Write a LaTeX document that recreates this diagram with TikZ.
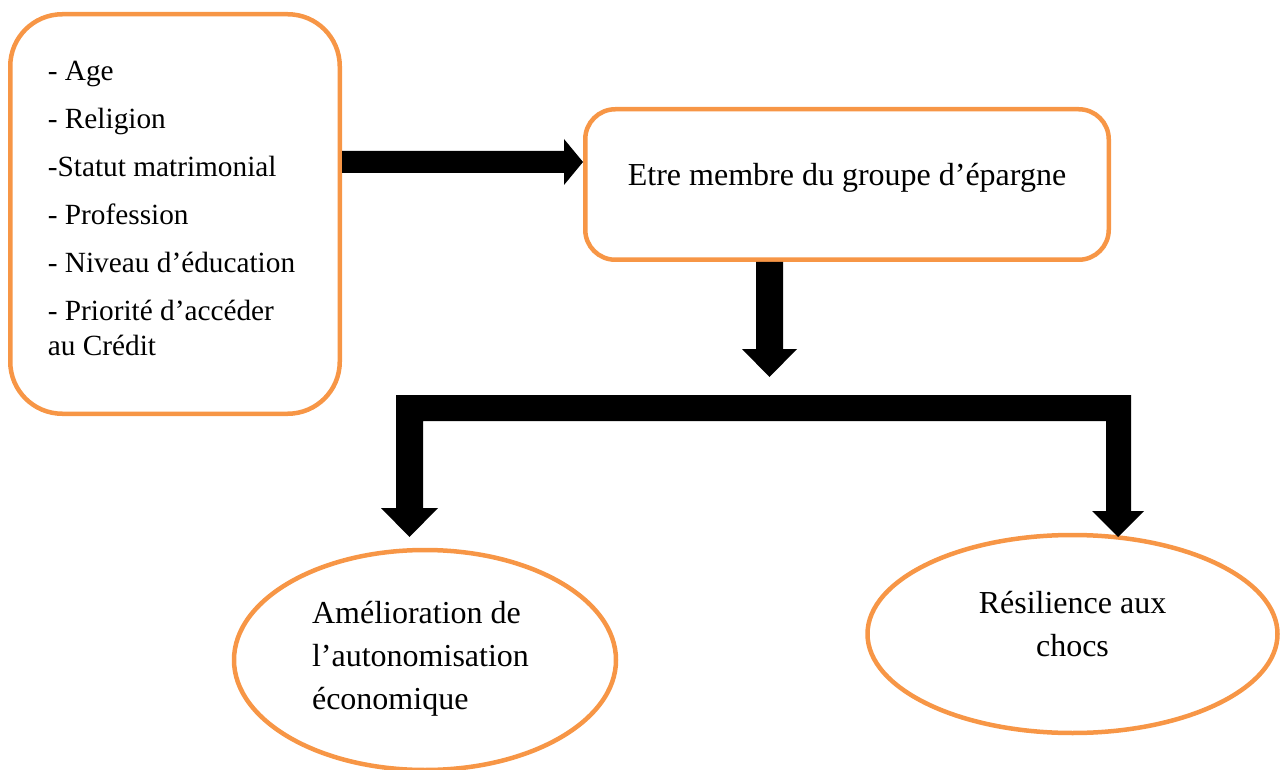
\documentclass[tikz,border=0pt]{standalone}
\usepackage{fontspec}
\setmainfont{Liberation Serif}
\usetikzlibrary{shapes.geometric}
\definecolor{boxorange}{HTML}{F79646}
\begin{document}
\begin{tikzpicture}[x=1pt,y=-1pt,
  frame/.style={draw=boxorange,line width=4.5pt,fill=white,inner sep=0pt},
  rbox/.style={frame,rectangle},
  oval/.style={frame,ellipse},
  blockarrow/.style={fill=black}]
\useasboundingbox (0,0) rectangle (1283,770);

\node[rbox,rounded corners=52pt,minimum width=329.5pt,minimum height=399.5pt,
  align=left,text height=295pt,text depth=13pt,
  font={\fontsize{29.3}{35}\selectfont}] (b1) at (175,214)
  {- Age\\[13pt]- Religion\\[13pt]-Statut matrimonial\\[13pt]- Profession\\[13pt]- Niveau d’éducation\rule{7pt}{0pt}\\[13pt]- Priorité d’accéder\\au Crédit};

\node[rbox,rounded corners=30pt,minimum width=523.5pt,minimum height=150.5pt,
  text height=22pt,text depth=19pt,font={\fontsize{32}{38}\selectfont}] (b2) at (847,184.5)
  {Etre membre du groupe d’épargne};

\node[oval,minimum width=382pt,minimum height=220pt,align=left,
  text height=110pt,text depth=12pt,font={\fontsize{32}{43}\selectfont}] (e1) at (425,660)
  {Amélioration de\\l’autonomisation\rule{9pt}{0pt}\\économique};

\node[oval,minimum width=410pt,minimum height=198pt,align=center,
  text height=67pt,text depth=23pt,font={\fontsize{32}{43}\selectfont}] (e2) at (1072.5,634)
  {Résilience aux\\chocs};

% arrow box1 -> box2
\fill[blockarrow] (b1.east |- 0,151) -- (564,151) -- (564,139) -- (b2.west |- 0,162)
  -- (564,185) -- (564,173) -- (b1.east |- 0,173) -- cycle;

% down arrow from box2
\coordinate (dtip) at (769.5,377);
\fill[blockarrow] (756,0 |- b2.south) -- (783,0 |- b2.south) -- (783,349) -- (797,349)
  -- (dtip) -- (742,349) -- (756,349) -- cycle;

% bracket with two arrows
\coordinate (ltip) at (409.5,537);
\coordinate (rtip) at (1118,537);
\fill[blockarrow] (396,395) -- (1131,395) -- (1131,511) -- (1144,511) -- (rtip)
  -- (1092,511) -- (1106,511) -- (1106,421) -- (423,421) -- (423,508) -- (438,508)
  -- (ltip) -- (381,508) -- (396,508) -- cycle;
\end{tikzpicture}
\end{document}
